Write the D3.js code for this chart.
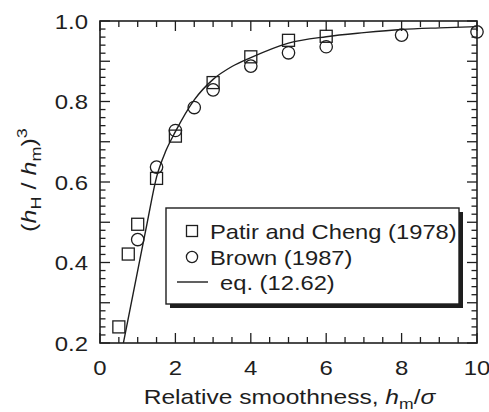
<!DOCTYPE html>
<html>
<head>
<meta charset="utf-8">
<script src="https://cdn.jsdelivr.net/npm/d3@7"></script>
<style>
  html, body { margin: 0; padding: 0; background: #fff; }
  svg { display: block; }
  text { font-family: "Liberation Sans", Arial, Helvetica, sans-serif; fill: #1e1e1e; }
</style>
</head>
<body>
<svg id="chart" width="489" height="412"></svg>
<script>
// ---------- data ----------
const patirX = [0.5, 0.75, 1.0, 1.5, 2.0, 3.0, 4.0, 5.0, 6.0];
const patirY = [0.24, 0.421, 0.495, 0.609, 0.714, 0.847, 0.911, 0.952, 0.962];

const brownX = [1.0, 1.5, 2.0, 2.5, 3.0, 4.0, 5.0, 6.0, 8.0, 10.0];
const brownY = [0.457, 0.637, 0.728, 0.785, 0.829, 0.888, 0.921, 0.936, 0.965, 0.973];

const eqX = [0.62, 1.0, 1.25, 1.5, 1.75, 2.0, 2.5, 3.0, 3.5, 4.0, 5.0, 6.0, 7.0, 8.0, 9.0, 10.0];
const eqY = [0.2, 0.38, 0.498, 0.612, 0.678, 0.725, 0.804, 0.855, 0.887, 0.909, 0.945, 0.961, 0.971, 0.979, 0.983, 0.986];

const xTickLabels = [0, 2, 4, 6, 8, 10];
const yTickLabels = [0.2, 0.4, 0.6, 0.8, 1.0];
const legendLabels = ["Patir and Cheng (1978)", "Brown (1987)", "eq. (12.62)"];

// ---------- layout ----------
const svg = d3.select("#chart");
const L = 100, R = 477, T = 21, B = 343;
const x = d3.scaleLinear().domain([0, 10]).range([L, R]);
const y = d3.scaleLinear().domain([0.2, 1.0]).range([B, T]);
const STRETCH = 1.14;
const ink = "#1e1e1e";

function stretch(sel, k) {
  sel.each(function () {
    const len = this.getComputedTextLength();
    d3.select(this).attr("textLength", len * k).attr("lengthAdjust", "spacingAndGlyphs");
  });
}

// ---------- ticks (inside, all four sides) ----------
const g = svg.append("g");
const xMinor = d3.range(0, 10.001, 0.5);
const yMinor = d3.range(0.2, 1.0001, 0.02);
const xLen = v => (Math.abs(v / 2 - Math.round(v / 2)) < 1e-6 ? 10 : 6);
const yLen = v => (Math.abs(v * 10 - Math.round(v * 10)) < 1e-6 ? 10 : 5.5);

xMinor.forEach(v => {
  g.append("line").attr("x1", x(v)).attr("x2", x(v)).attr("y1", B).attr("y2", B - xLen(v))
    .attr("stroke", ink).attr("stroke-width", 1.3);
  g.append("line").attr("x1", x(v)).attr("x2", x(v)).attr("y1", T).attr("y2", T + xLen(v))
    .attr("stroke", ink).attr("stroke-width", 1.3);
});
yMinor.forEach(v => {
  g.append("line").attr("x1", L).attr("x2", L + yLen(v)).attr("y1", y(v)).attr("y2", y(v))
    .attr("stroke", ink).attr("stroke-width", 1.3);
  g.append("line").attr("x1", R).attr("x2", R - yLen(v)).attr("y1", y(v)).attr("y2", y(v))
    .attr("stroke", ink).attr("stroke-width", 1.3);
});

// frame
g.append("rect").attr("x", L).attr("y", T).attr("width", R - L).attr("height", B - T)
  .attr("fill", "none").attr("stroke", ink).attr("stroke-width", 1.6);

// tick labels
const xl = g.selectAll(".xl").data(xTickLabels).enter().append("text")
  .attr("x", d => x(d)).attr("y", 375).attr("text-anchor", "middle")
  .attr("font-size", 21).text(d => d);
stretch(xl, STRETCH);
const yl = g.selectAll(".yl").data(yTickLabels).enter().append("text")
  .attr("x", 88).attr("y", d => y(d)).attr("dy", "0.36em").attr("text-anchor", "end")
  .attr("font-size", 21).text(d => d3.format(".1f")(d));
stretch(yl, STRETCH);

// axis titles
const xt = svg.append("text").attr("x", (L + R) / 2 + 1).attr("y", 404)
  .attr("text-anchor", "middle").attr("font-size", 21);
xt.append("tspan").text("Relative smoothness, ");
xt.append("tspan").attr("font-style", "italic").text("h");
xt.append("tspan").attr("font-size", 15).attr("dy", 5).text("m");
xt.append("tspan").attr("dy", -5).text("/");
xt.append("tspan").attr("font-style", "italic").text("σ");
stretch(xt, 1.17);

const yt = svg.append("text").attr("transform", "translate(36,232) rotate(-90)")
  .attr("text-anchor", "start").attr("font-size", 21);
yt.append("tspan").text("(");
yt.append("tspan").attr("font-style", "italic").text("h");
yt.append("tspan").attr("font-size", 15).attr("dy", 5).text("H");
yt.append("tspan").attr("dy", -5).text(" / ");
yt.append("tspan").attr("font-style", "italic").text("h");
yt.append("tspan").attr("font-size", 15).attr("dy", 5).text("m");
yt.append("tspan").attr("dy", -5).text(")");
yt.append("tspan").attr("font-size", 15).attr("dy", -9).text("3");
stretch(yt, 1.2);

// ---------- curve ----------
const eqData = eqX.map((v, i) => [v, eqY[i]]);
svg.append("path").datum(eqData)
  .attr("d", d3.line().x(d => x(d[0])).y(d => y(d[1])).curve(d3.curveMonotoneX))
  .attr("fill", "none").attr("stroke", ink).attr("stroke-width", 1.4);

// ---------- markers ----------
const sq = 12;
svg.selectAll(".sq").data(patirX.map((v, i) => [v, patirY[i]])).enter().append("rect")
  .attr("x", d => x(d[0]) - sq / 2).attr("y", d => y(d[1]) - sq / 2)
  .attr("width", sq).attr("height", sq)
  .attr("fill", "none").attr("stroke", ink).attr("stroke-width", 1.3);
svg.selectAll(".ci").data(brownX.map((v, i) => [v, brownY[i]])).enter().append("circle")
  .attr("cx", d => x(d[0])).attr("cy", d => y(d[1])).attr("r", 6.2)
  .attr("fill", "none").attr("stroke", ink).attr("stroke-width", 1.3);

// ---------- legend ----------
const lg = svg.append("g");
const LX = 166, LY = 208, LW = 293, LH = 96;
lg.append("rect").attr("x", LX + 4).attr("y", LY + 4).attr("width", LW).attr("height", LH)
  .attr("fill", ink);
lg.append("rect").attr("x", LX).attr("y", LY).attr("width", LW).attr("height", LH)
  .attr("fill", "#fff").attr("stroke", ink).attr("stroke-width", 1.4);
const rows = [231, 257, 282];
lg.append("rect").attr("x", 192 - 5.5).attr("y", rows[0] - 5.5).attr("width", 11).attr("height", 11)
  .attr("fill", "none").attr("stroke", ink).attr("stroke-width", 1.3);
lg.append("circle").attr("cx", 192).attr("cy", rows[1]).attr("r", 5.6)
  .attr("fill", "none").attr("stroke", ink).attr("stroke-width", 1.3);
lg.append("line").attr("x1", 177).attr("x2", 208).attr("y1", rows[2]).attr("y2", rows[2])
  .attr("stroke", ink).attr("stroke-width", 1.4);
const textX = [210, 210, 220];
const lt = lg.selectAll(".lt").data(legendLabels).enter().append("text")
  .attr("x", (d, i) => textX[i]).attr("y", (d, i) => rows[i]).attr("dy", "0.36em")
  .attr("font-size", 21).text(d => d);
stretch(lt, 1.13);
</script>
</body>
</html>
